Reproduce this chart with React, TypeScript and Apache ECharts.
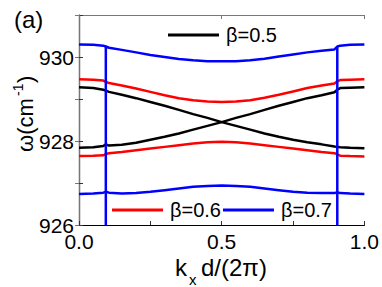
import React, { useEffect, useRef } from "react";
import * as echarts from "echarts";

const kValues = [0, 0.05, 0.085, 0.094, 0.105, 0.15, 0.2, 0.25, 0.3, 0.35, 0.4, 0.45, 0.5, 0.55, 0.6, 0.65, 0.7, 0.75, 0.8, 0.85, 0.895, 0.905, 0.915, 0.95, 1.0];

const black05Down = [929.28, 929.26, 929.22, 929.2, 929.17, 929.1, 929.02, 928.93, 928.84, 928.74, 928.64, 928.55, 928.45, 928.36, 928.27, 928.18, 928.1, 928.03, 927.97, 927.92, 927.87, 927.86, 927.85, 927.84, 927.83];
const black05Up = [927.84, 927.85, 927.88, 927.92, 927.89, 927.91, 927.96, 928.03, 928.1, 928.18, 928.27, 928.36, 928.45, 928.55, 928.64, 928.74, 928.84, 928.93, 929.02, 929.09, 929.16, 929.22, 929.26, 929.27, 929.28];
const red06Upper = [929.47, 929.46, 929.44, 929.41, 929.38, 929.32, 929.25, 929.17, 929.09, 929.02, 928.97, 928.94, 928.93, 928.94, 928.97, 929.03, 929.1, 929.18, 929.26, 929.32, 929.37, 929.42, 929.45, 929.46, 929.47];
const red06Lower = [927.64, 927.65, 927.66, 927.69, 927.71, 927.74, 927.78, 927.82, 927.86, 927.9, 927.94, 927.97, 927.98, 927.97, 927.94, 927.9, 927.86, 927.82, 927.78, 927.74, 927.71, 927.68, 927.65, 927.64, 927.63];
const blue07Upper = [930.3, 930.29, 930.27, 930.25, 930.22, 930.17, 930.11, 930.05, 930.0, 929.95, 929.92, 929.9, 929.9, 929.9, 929.92, 929.96, 930.01, 930.06, 930.11, 930.15, 930.18, 930.25, 930.27, 930.29, 930.3];
const blue07Lower = [926.74, 926.75, 926.77, 926.79, 926.77, 926.75, 926.76, 926.79, 926.83, 926.87, 926.91, 926.93, 926.94, 926.93, 926.91, 926.87, 926.83, 926.79, 926.77, 926.76, 926.76, 926.78, 926.76, 926.75, 926.74];
const blueVerticalK = [0.094, 0.905];
const blueVerticalTop = [930.25, 930.25];
const blueVerticalBottom = [926, 926];

const legendTop = ["β=0.5"];
const legendBottom = ["β=0.6", "β=0.7"];
const xTickLabels = ["0.0", "0.5", "1.0"];
const yTickLabels = ["926", "928", "930"];

const FONT = "Liberation Sans, Arial, sans-serif";
const BLACK = "#000000";
const RED = "#ff0000";
const BLUE = "#0000ff";

function pairs(ys: number[]) {
  return kValues.map((k, i) => [k, ys[i]]);
}

function lineSeries(name: string, data: number[][], color: string) {
  return {
    type: "line",
    name,
    data,
    showSymbol: false,
    symbol: "none",
    lineStyle: { color, width: 2.5 },
    itemStyle: { color },
    xAxisIndex: 0,
    yAxisIndex: 0,
  };
}

export default function App() {
  const ref = useRef<HTMLDivElement>(null);
  useEffect(() => {
    if (!ref.current) return;
    const chart = echarts.init(ref.current, null, { renderer: "svg" });
    const verticals = blueVerticalK.map((k, i) =>
      lineSeries(legendBottom[1], [[k, blueVerticalTop[i]], [k, blueVerticalBottom[i]]], BLUE)
    );
    chart.setOption({
      animation: false,
      backgroundColor: "#ffffff",
      textStyle: { fontFamily: FONT },
      grid: { left: 79, right: 17, top: 15, bottom: 62 },
      legend: [
        {
          data: [legendTop[0]],
          left: 168,
          top: 25,
          padding: 0,
          icon: "rect",
          itemWidth: 51,
          itemHeight: 3,
          itemGap: 2,
          selectedMode: false,
          textStyle: { fontFamily: FONT, fontSize: 20, color: BLACK, padding: [0, 0, 0, 2] },
        },
        {
          data: legendBottom,
          left: 112,
          top: 200,
          padding: 0,
          icon: "rect",
          itemWidth: 51,
          itemHeight: 3,
          itemGap: 2,
          selectedMode: false,
          textStyle: { fontFamily: FONT, fontSize: 20, color: BLACK, padding: [0, 0, 0, 2] },
        },
      ],
      xAxis: [
        {
          type: "value",
          min: 0,
          max: 1,
          interval: 0.25,
          position: "bottom",
          splitLine: { show: false },
          axisLine: { show: true, lineStyle: { color: BLACK, width: 1.2 } },
          axisTick: { show: true, inside: true, length: 4, lineStyle: { color: "#333" } },
          axisLabel: {
            show: true,
            margin: 6,
            fontFamily: FONT,
            fontSize: 21,
            color: BLACK,
            formatter: (v: number) => {
              const s = v.toFixed(1);
              return xTickLabels.includes(s) && Math.abs(v * 2 - Math.round(v * 2)) < 1e-6 ? s : "";
            },
          },
        },
        {
          type: "value",
          min: 0,
          max: 1,
          interval: 0.5,
          position: "top",
          splitLine: { show: false },
          axisLine: { show: true, lineStyle: { color: "#777", width: 1.2 } },
          axisTick: { show: true, inside: true, length: 4, lineStyle: { color: "#777" } },
          axisLabel: { show: false },
        },
      ],
      yAxis: [
        {
          type: "value",
          min: 926,
          max: 931,
          interval: 1,
          position: "left",
          splitLine: { show: false },
          axisLine: { show: true, lineStyle: { color: BLACK, width: 1.2 } },
          axisTick: { show: true, inside: true, length: 4, lineStyle: { color: "#333" } },
          axisLabel: {
            show: true,
            margin: 5,
            fontFamily: FONT,
            fontSize: 21,
            color: BLACK,
            formatter: (v: number) => {
              const s = String(Math.round(v));
              return yTickLabels.includes(s) ? s : "";
            },
          },
        },
        {
          type: "value",
          min: 926,
          max: 931,
          interval: 1,
          position: "right",
          splitLine: { show: false },
          axisLine: { show: true, lineStyle: { color: "#777", width: 1.2 } },
          axisTick: { show: true, inside: true, length: 4, lineStyle: { color: "#777" } },
          axisLabel: { show: false },
        },
      ],
      series: [
        lineSeries(legendTop[0], pairs(black05Down), BLACK),
        lineSeries(legendTop[0], pairs(black05Up), BLACK),
        lineSeries(legendBottom[0], pairs(red06Upper), RED),
        lineSeries(legendBottom[0], pairs(red06Lower), RED),
        lineSeries(legendBottom[1], pairs(blue07Upper), BLUE),
        lineSeries(legendBottom[1], pairs(blue07Lower), BLUE),
        ...verticals,
      ],
      graphic: [
        {
          type: "text",
          left: 14,
          top: 7,
          style: { text: "(a)", fontFamily: FONT, fontSize: 24, fill: BLACK },
        },
        {
          type: "group",
          x: 36,
          y: 152,
          rotation: Math.PI / 2,
          children: [
            {
              type: "text",
              x: 0,
              y: 0,
              style: { text: "ω(cm", fontFamily: FONT, fontSize: 22, fill: BLACK, align: "left", verticalAlign: "bottom" },
            },
            {
              type: "text",
              x: 56,
              y: -11,
              style: { text: "-1", fontFamily: FONT, fontSize: 14, fill: BLACK, align: "left", verticalAlign: "bottom" },
            },
            {
              type: "text",
              x: 69,
              y: 0,
              style: { text: ")", fontFamily: FONT, fontSize: 22, fill: BLACK, align: "left", verticalAlign: "bottom" },
            },
          ],
        },
        {
          type: "text",
          x: 175,
          y: 279,
          style: { text: "k", fontFamily: FONT, fontSize: 24, fill: BLACK, align: "left", verticalAlign: "bottom" },
        },
        {
          type: "text",
          x: 189,
          y: 287,
          style: { text: "x", fontFamily: FONT, fontSize: 15, fill: BLACK, align: "left", verticalAlign: "bottom" },
        },
        {
          type: "text",
          x: 201,
          y: 279,
          style: { text: "d/(2π)", fontFamily: FONT, fontSize: 24, fill: BLACK, align: "left", verticalAlign: "bottom" },
        },
      ],
    });
    return () => chart.dispose();
  }, []);
  return <div ref={ref} style={{ position: "absolute", left: 0, top: 0, width: 382, height: 287 }} />;
}
